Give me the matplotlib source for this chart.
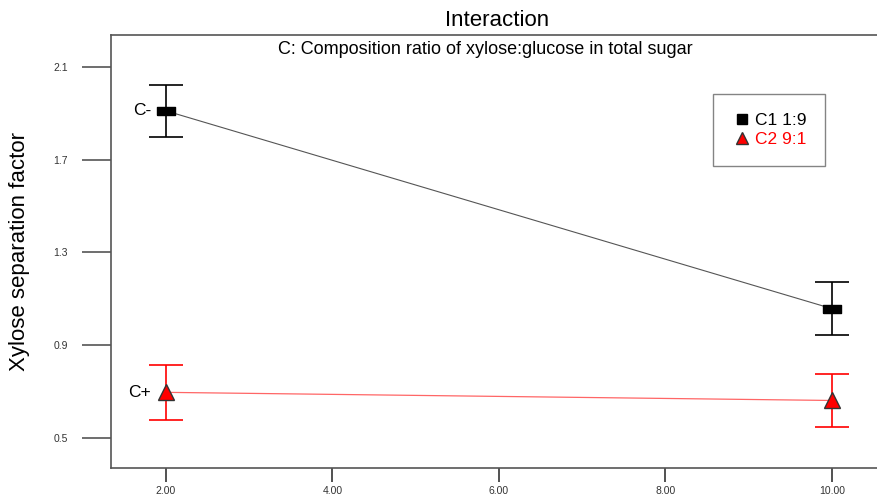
import numpy as np
import matplotlib.pyplot as plt
from matplotlib.lines import Line2D

plt.rcParams['font.family'] = ['Liberation Sans', 'DejaVu Sans']

# factor levels and mean response for each composition ratio
x_levels = [2.0, 10.0]
c1_mean = [1.910, 1.058]
c1_err = [0.113, 0.114]
c2_mean = [0.697, 0.662]
c2_err = [0.117, 0.115]
labels = ['C1 1:9', 'C2 9:1']
x_ticks = [2.0, 4.0, 6.0, 8.0, 10.0]
y_ticks = [0.5, 0.9, 1.3, 1.7, 2.1]

fig = plt.figure(figsize=(8.78, 4.98), dpi=100)
ax = fig.add_axes([111 / 878, 30 / 498, 767 / 878, 433 / 498])

rect = [(-1, -0.45), (1, -0.45), (1, 0.45), (-1, 0.45), (-1, -0.45)]

# connecting lines
ax.plot(x_levels, c1_mean, color='#555555', lw=0.8, zorder=1)
ax.plot(x_levels, c2_mean, color='#ff6666', lw=0.9, zorder=1)

# error bars
ax.errorbar(x_levels, c1_mean, yerr=c1_err, fmt='none', ecolor='black',
            elinewidth=1.2, capsize=12, capthick=1.2, zorder=2)
ax.errorbar(x_levels, c2_mean, yerr=c2_err, fmt='none', ecolor='red',
            elinewidth=1.2, capsize=12, capthick=1.2, zorder=2)

# markers
ax.plot(x_levels, c1_mean, linestyle='none', marker=rect, markersize=13,
        color='black', zorder=3)
ax.plot(x_levels, c2_mean, linestyle='none', marker='^', markersize=12,
        markerfacecolor='red', markeredgecolor='#333333', markeredgewidth=1,
        zorder=3)

ax.text(1.82, c1_mean[0], 'C-', ha='right', va='center', fontsize=12.5)
ax.text(1.82, c2_mean[0], 'C+', ha='right', va='center', fontsize=12.5)

ax.set_xlim(1.339, 10.556)
ax.set_ylim(0.371, 2.237)
ax.set_xticks(x_ticks)
ax.set_xticklabels([f'{v:.2f}' for v in x_ticks], fontsize=7.5, color='#333333')
ax.set_yticks(y_ticks)
ax.set_yticklabels([f'{v:.1f}' for v in y_ticks], fontsize=7.5, color='#333333')
ax.tick_params(axis='y', length=21, width=1.2, color='#555555', pad=10)
ax.tick_params(axis='x', length=10, width=1.2, color='#333333', pad=3)

ax.spines['right'].set_visible(False)
for s in ['left', 'top', 'bottom']:
    ax.spines[s].set_color('#555555')
    ax.spines[s].set_linewidth(1.2)

ax.set_ylabel('Xylose separation factor', fontsize=16)
ax.yaxis.set_label_coords(-0.105, 0.5)
fig.text(497 / 878, 1 - 20 / 498, 'Interaction', ha='center', va='center',
         fontsize=16)
ax.text(0.488, 0.966, 'C: Composition ratio of xylose:glucose in total sugar',
        transform=ax.transAxes, ha='center', va='center', fontsize=13)

handles = [
    Line2D([], [], linestyle='none', marker='s', markersize=7, color='black'),
    Line2D([], [], linestyle='none', marker='^', markersize=8,
           markerfacecolor='red', markeredgecolor='#333333'),
]
leg = ax.legend(handles, labels, loc='upper left',
                bbox_to_anchor=((713 - 111) / 767, 1 - (94 - 35) / 433),
                fontsize=12.5, frameon=True, fancybox=False, borderpad=1.1,
                handletextpad=0.2, handlelength=1.1, labelspacing=0.2,
                borderaxespad=0)
leg.get_frame().set_edgecolor('#666666')
leg.get_frame().set_linewidth(1.0)
leg.get_texts()[0].set_color('black')
leg.get_texts()[1].set_color('red')

fig.savefig('out.png', dpi=100)
